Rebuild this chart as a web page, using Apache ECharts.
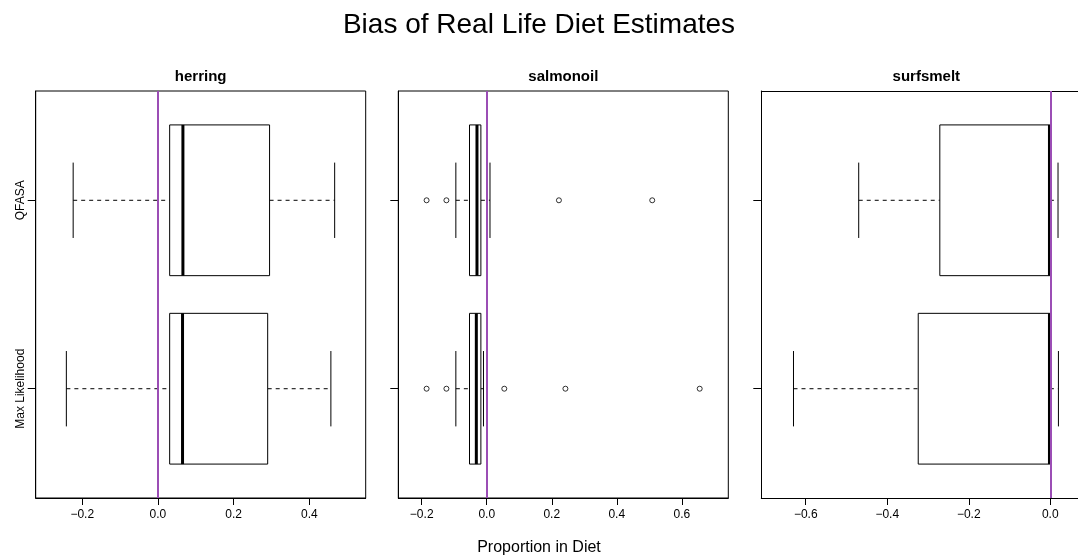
<!DOCTYPE html>
<html>
<head>
<meta charset="utf-8">
<script src="https://cdn.jsdelivr.net/npm/echarts@6/dist/echarts.min.js"></script>
<style>
html,body{margin:0;padding:0;background:#fff;}
#chart{width:1078px;height:558px;}
</style>
</head>
<body>
<div id="chart"></div>
<script>
// ---------- data ----------
const chartTitle = 'Bias of Real Life Diet Estimates';
const xAxisTitle = 'Proportion in Diet';
const panelNames = ['herring', 'salmonoil', 'surfsmelt'];
const methods = ['Max Likelihood', 'QFASA']; // positions 1, 2

// five-number summaries: [lowWhisker, Q1, median, Q3, highWhisker]
const herringML = [-0.242, 0.031, 0.065, 0.290, 0.457];
const herringQF = [-0.224, 0.031, 0.066, 0.295, 0.467];
const salmonoilML = [-0.095, -0.053, -0.032, -0.018, -0.010];
const salmonoilQF = [-0.095, -0.053, -0.030, -0.018, 0.010];
const surfsmeltML = [-0.630, -0.324, -0.002, -0.001, 0.020];
const surfsmeltQF = [-0.470, -0.271, -0.002, -0.001, 0.019];

// outliers
const herringOutML = [];
const herringOutQF = [];
const salmonoilOutML = [-0.185, -0.124, 0.054, 0.242, 0.655];
const salmonoilOutQF = [-0.185, -0.124, 0.222, 0.509];
const surfsmeltOutML = [];
const surfsmeltOutQF = [];

// axis ranges and ticks (surfsmelt panel runs past the right edge of the page)
const herringRange = [-0.323, 0.549];
const salmonoilRange = [-0.272, 0.743];
const surfsmeltRange = [-0.709, 0.068];
const herringTicks = [-0.2, 0.0, 0.2, 0.4];
const salmonoilTicks = [-0.2, 0.0, 0.2, 0.4, 0.6];
const surfsmeltTicks = [-0.6, -0.4, -0.2, 0.0];
const yRange = [0.42, 2.58];
const refValue = 0;

// ---------- layout ----------
const panelLefts = [35.7, 398.3, 761.3];
const panelWidths = [330, 330, 316.7];
const openRight = [false, false, true];
const panelTop = 91;
const panelHeight = 407;
const purple = '#9b4db5';
const FONT = '"Liberation Sans", Arial, Helvetica, sans-serif';

const panels = [
  { stats: [herringML, herringQF], outs: [herringOutML, herringOutQF], range: herringRange, ticks: herringTicks },
  { stats: [salmonoilML, salmonoilQF], outs: [salmonoilOutML, salmonoilOutQF], range: salmonoilRange, ticks: salmonoilTicks },
  { stats: [surfsmeltML, surfsmeltQF], outs: [surfsmeltOutML, surfsmeltOutQF], range: surfsmeltRange, ticks: surfsmeltTicks }
];

const fmt = v => (v < -1e-9 ? '\u2212' : '') + Math.abs(v).toFixed(1);

function renderBox(params, api) {
  const y = api.value(0);
  const lo = api.value(1), q1 = api.value(2), med = api.value(3), q3 = api.value(4), hi = api.value(5);
  const half = api.size([0, 0.4])[1];
  const cap = api.size([0, 0.2])[1];
  const p = v => api.coord([v, y]);
  const pLo = p(lo), pQ1 = p(q1), pMed = p(med), pQ3 = p(q3), pHi = p(hi);
  const cy = pLo[1];
  const black = '#000';
  return {
    type: 'group',
    children: [
      { type: 'line', shape: { x1: pLo[0], y1: cy, x2: pQ1[0], y2: cy }, style: { stroke: black, lineWidth: 1, lineDash: [4, 4] } },
      { type: 'line', shape: { x1: pQ3[0], y1: cy, x2: pHi[0], y2: cy }, style: { stroke: black, lineWidth: 1, lineDash: [4, 4] } },
      { type: 'line', shape: { x1: pLo[0], y1: cy - cap, x2: pLo[0], y2: cy + cap }, style: { stroke: black, lineWidth: 1 } },
      { type: 'line', shape: { x1: pHi[0], y1: cy - cap, x2: pHi[0], y2: cy + cap }, style: { stroke: black, lineWidth: 1 } },
      { type: 'rect', shape: { x: pQ1[0], y: cy - half, width: pQ3[0] - pQ1[0], height: 2 * half }, style: { fill: '#fff', stroke: black, lineWidth: 1 } },
      { type: 'line', shape: { x1: pMed[0], y1: cy - half, x2: pMed[0], y2: cy + half }, style: { stroke: black, lineWidth: 3 } }
    ]
  };
}

const grids = [], xAxes = [], yAxes = [], series = [], titles = [];

titles.push({ text: chartTitle, left: 539, top: 11, textAlign: 'center', padding: 0,
  textStyle: { fontFamily: FONT, fontSize: 28, fontWeight: 'normal', color: '#000' } });
titles.push({ text: xAxisTitle, left: 539, top: 540, textAlign: 'center', padding: 0,
  textStyle: { fontFamily: FONT, fontSize: 16, fontWeight: 'normal', color: '#000' } });

panels.forEach((pn, i) => {
  grids.push({ left: panelLefts[i], top: panelTop, width: panelWidths[i], height: panelHeight,
    show: !openRight[i], borderColor: '#000', borderWidth: 1, backgroundColor: 'transparent', containLabel: false });
  titles.push({ text: panelNames[i], left: panelLefts[i] + 165, top: 69, textAlign: 'center', padding: 0,
    textStyle: { fontFamily: FONT, fontSize: 15, fontWeight: 'bold', color: '#000' } });
  xAxes.push({
    type: 'value', gridIndex: i, min: pn.range[0], max: pn.range[1], position: 'bottom',
    splitLine: { show: false },
    axisLine: { show: true, onZero: false, lineStyle: { color: '#000', width: 1 } },
    axisTick: { show: true, length: 7, customValues: pn.ticks, lineStyle: { color: '#000' } },
    axisLabel: { show: true, customValues: pn.ticks, formatter: fmt, margin: 11,
      fontFamily: FONT, fontSize: 12, color: '#000' }
  });
  yAxes.push({
    type: 'value', gridIndex: i, min: yRange[0], max: yRange[1], position: 'left',
    splitLine: { show: false },
    axisLine: { show: true, onZero: false, lineStyle: { color: '#000', width: 1 } },
    axisTick: { show: true, length: 8, customValues: [1, 2], lineStyle: { color: '#000' } },
    axisLabel: { show: i === 0, customValues: [1, 2], rotate: 90, margin: 9,
      formatter: v => methods[Math.round(v) - 1] || '',
      fontFamily: FONT, fontSize: 12, color: '#000' }
  });
  const boxData = pn.stats.map((s, k) => [k + 1].concat(s));
  series.push({
    type: 'custom', xAxisIndex: i, yAxisIndex: i, renderItem: renderBox,
    data: boxData, encode: { x: [1, 2, 3, 4, 5], y: 0 }, z: 2, silent: true, clip: false
  });
  const outData = [];
  pn.outs.forEach((arr, k) => arr.forEach(v => outData.push([v, k + 1])));
  series.push({
    type: 'scatter', xAxisIndex: i, yAxisIndex: i, data: outData, symbol: 'circle', symbolSize: 5,
    itemStyle: { color: '#fff', borderColor: '#000', borderWidth: 1 }, z: 3, silent: true,
    markLine: { silent: true, symbol: 'none', label: { show: false }, z: 10,
      lineStyle: { color: purple, width: 2, type: 'solid' }, data: [{ xAxis: refValue }] }
  });
});

// top frame line for the panel whose right side is cut off by the page edge
panels.forEach((pn, i) => {
  if (!openRight[i]) return;
  xAxes.push({
    type: 'value', gridIndex: i, min: pn.range[0], max: pn.range[1], position: 'top',
    splitLine: { show: false },
    axisLine: { show: true, onZero: false, lineStyle: { color: '#000', width: 1 } },
    axisTick: { show: false }, axisLabel: { show: false }
  });
});

const chart = echarts.init(document.getElementById('chart'), null, { renderer: 'canvas' });
chart.setOption({
  animation: false,
  backgroundColor: '#fff',
  title: titles,
  grid: grids,
  xAxis: xAxes,
  yAxis: yAxes,
  series: series
});
</script>
</body>
</html>
